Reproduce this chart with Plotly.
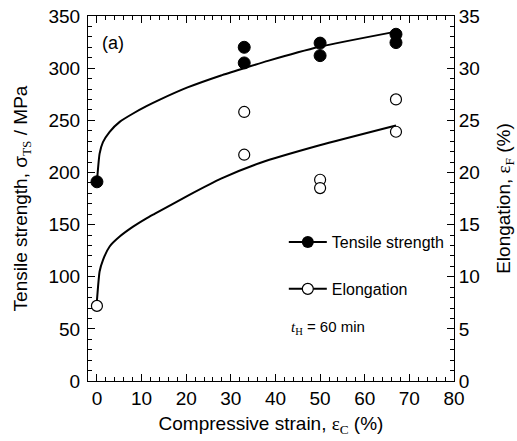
import plotly.graph_objects as go

# ---- data ----
ts_x = [0, 33, 33, 50, 50, 67, 67]
ts_y = [191, 320, 305, 324, 312, 332.5, 324.5]
el_x = [0, 33, 33, 50, 50, 67, 67]
el_y = [7.2, 25.8, 21.7, 19.3, 18.5, 27.0, 23.9]

ts_fit_x = [0, 0.6, 1.35, 2.85, 5.1, 8.1, 11.1, 14.1, 20.3, 27.8, 33.0, 38.3, 49.9, 67]
ts_fit_y = [191, 218, 229, 239, 248.5, 256.5, 263.5, 269.8, 281.5, 293, 300, 307, 320.5, 335]
el_fit_x = [0, 0.6, 1.35, 2.85, 5.1, 8.1, 11.1, 13.0, 20.3, 27.8, 36.5, 49.9, 67]
el_fit_y = [7.7, 10.5, 11.6, 12.9, 13.85, 14.8, 15.6, 16.05, 17.75, 19.4, 20.9, 22.6, 24.5]

x_ticks = [0, 10, 20, 30, 40, 50, 60, 70, 80]

FONT = "Arial, Liberation Sans, sans-serif"
SERIF = "Times New Roman, Liberation Serif, serif"

def serif(s):
    return "<span style='font-family:%s'>%s</span>" % (SERIF, s)

fig = go.Figure()

fig.add_trace(go.Scatter(x=ts_fit_x, y=ts_fit_y, mode="lines",
                         line=dict(color="black", width=2, shape="spline", smoothing=0.5),
                         showlegend=False, hoverinfo="skip"))
fig.add_trace(go.Scatter(x=el_fit_x, y=el_fit_y, mode="lines", yaxis="y2",
                         line=dict(color="black", width=2, shape="spline", smoothing=0.5),
                         showlegend=False, hoverinfo="skip"))
fig.add_trace(go.Scatter(x=ts_x, y=ts_y, mode="markers",
                         marker=dict(symbol="circle", size=12, color="black",
                                     line=dict(color="black", width=1)),
                         showlegend=False))
fig.add_trace(go.Scatter(x=el_x, y=el_y, mode="markers", yaxis="y2",
                         marker=dict(symbol="circle", size=11, color="white",
                                     line=dict(color="black", width=1.2)),
                         showlegend=False))

# legend entries
fig.add_trace(go.Scatter(x=[None], y=[None], mode="lines+markers", name="Tensile strength",
                         legendgroup="a",
                         line=dict(color="black", width=2),
                         marker=dict(symbol="circle", size=12, color="black")))
fig.add_trace(go.Scatter(x=[None], y=[None], mode="lines+markers", name="Elongation",
                         legendgroup="b",
                         line=dict(color="black", width=2),
                         marker=dict(symbol="circle", size=11, color="white",
                                     line=dict(color="black", width=1.2))))

axis_common = dict(showline=True, linecolor="black", linewidth=1,
                   ticks="inside", ticklen=7, tickwidth=1, tickcolor="black",
                   showgrid=False, zeroline=False, automargin=False,
                   tickfont=dict(family=FONT, size=19, color="black"))

fig.update_layout(
    width=517, height=441,
    margin=dict(l=88, r=63, t=16, b=60),
    paper_bgcolor="white", plot_bgcolor="white",
    font=dict(family=FONT, color="black"),
    xaxis=dict(range=[-2, 80], tickvals=x_ticks, mirror="ticks",
               minor=dict(dtick=2, tick0=0, ticklen=4, ticks="inside", tickcolor="black"),
               title=dict(text="Compressive strain, " + serif("ε<sub>C</sub>") + " (%)",
                          font=dict(family=FONT, size=19), standoff=8),
               **axis_common),
    yaxis=dict(range=[0, 350], dtick=50, tick0=0, ticklabelstandoff=3,
               minor=dict(dtick=10, tick0=0, ticklen=4, ticks="inside", tickcolor="black"),
               title=dict(text="Tensile strength, σ" + serif("<sub>TS</sub>") + " / MPa",
                          font=dict(family=FONT, size=19), standoff=15),
               **axis_common),
    yaxis2=dict(range=[0, 35], dtick=5, tick0=0, overlaying="y", side="right",
                minor=dict(dtick=1, tick0=0, ticklen=4, ticks="inside", tickcolor="black"),
                title=dict(text="Elongation, " + serif("ε<sub>F</sub>") + " (%)",
                           font=dict(family=FONT, size=19), standoff=20),
                **axis_common),
    legend=dict(x=0.535, y=0.427, xanchor="left", yanchor="top",
                bgcolor="rgba(0,0,0,0)", font=dict(family=FONT, size=16),
                tracegroupgap=23, itemwidth=38),
    annotations=[
        dict(text="(a)", xref="paper", yref="paper", x=0.068, y=0.925,
             xanchor="center", yanchor="middle", showarrow=False,
             font=dict(family=FONT, size=18)),
        dict(text=serif("<i>t</i><sub>H</sub>") + " = 60 min",
             xref="paper", yref="paper", x=0.548, y=0.146,
             xanchor="left", yanchor="middle", showarrow=False,
             font=dict(family=FONT, size=15)),
    ],
)

fig.write_html("out.html")
